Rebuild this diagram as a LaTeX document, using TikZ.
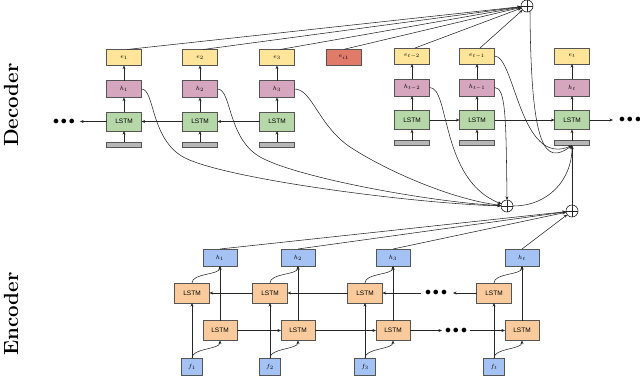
\documentclass[tikz,border=0pt]{standalone}
\usepackage{fontspec}
\setsansfont{Liberation Sans}
\usetikzlibrary{arrows.meta}
\definecolor{yel}{HTML}{FFE599}
\definecolor{pnk}{HTML}{D5A6BD}
\definecolor{grn}{HTML}{B6D7A8}
\definecolor{redc}{HTML}{E07B6A}
\definecolor{gry}{HTML}{B7B7B7}
\definecolor{blu}{HTML}{A4C2F4}
\definecolor{org}{HTML}{F9CB9C}
\definecolor{bord}{HTML}{555555}
\tikzset{
  every node/.style={inner sep=0pt, outer sep=0pt},
  bx/.style={draw=bord, line width=0.6pt, minimum width=35pt, font=\fontsize{6}{6}\selectfont},
  ebox/.style={bx, fill=yel, minimum height=16pt},
  rbox/.style={bx, fill=redc, minimum height=16pt},
  hbox/.style={bx, fill=pnk, minimum height=17pt},
  dlstm/.style={bx, fill=grn, minimum height=19pt, font=\sffamily\fontsize{6.5}{7}\selectfont},
  gbox/.style={bx, fill=gry, minimum height=5pt},
  ehbox/.style={bx, fill=blu, minimum width=34pt, minimum height=17pt},
  elstm/.style={bx, fill=org, minimum height=20pt, font=\sffamily\fontsize{6.5}{7}\selectfont},
  fbox/.style={bx, fill=blu, minimum width=21pt, minimum height=17pt},
  conn/.style={line width=0.55pt, draw=black!85, -{Stealth[length=3.6pt,width=3pt]}},
  plain/.style={line width=0.55pt, draw=black!85},
  oplus/.style={circle, draw=black!85, line width=0.6pt, minimum size=12pt,
    path picture={\draw[line width=0.6pt] (path picture bounding box.north) -- (path picture bounding box.south)
      (path picture bounding box.west) -- (path picture bounding box.east);}},
  dotsty/.style={font=\fontsize{12}{12}\selectfont},
  side/.style={font=\bfseries\fontsize{20.5}{22}\selectfont, rotate=90},
}
\begin{document}
\begin{tikzpicture}[x=1pt,y=-1pt]
\useasboundingbox (0,0) rectangle (640,378);
% side labels
\node[side] (declab) at (11,105) {Decoder};
\node[side] (enclab) at (11,314) {Encoder};
% decoder left columns
\foreach \n/\x/\lab in {1/124/1, 2/200/2, 3/277/3}{
  \node[ebox] (de\n) at (\x,57.5) {$e_{\lab}$};
  \node[hbox] (dh\n) at (\x,89) {$h_{\lab}$};
  \node[dlstm] (dl\n) at (\x,121.5) {LSTM};
  \node[gbox] (dg\n) at (\x,144.5) {};
}
\node[rbox] (dei) at (344,57.3) {$e_{i1}$};
% decoder right columns
\foreach \n/\x/\lab in {4/412/t-2, 5/477/t-1, 6/572/t}{
  \node[ebox] (de\n) at (\x,56) {$e_{\lab}$};
  \node[hbox] (dh\n) at (\x,87.5) {$h_{\lab}$};
  \node[dlstm] (dl\n) at (\x,120) {LSTM};
  \node[gbox] (dg\n) at (\x,143) {};
}
\foreach \n in {1,...,6}{
  \draw[conn] (dg\n) -- (dl\n);
  \draw[conn] (dl\n) -- (dh\n);
  \draw[conn] (dh\n) -- (de\n);
}
% decoder horizontal
\draw[conn] (dl3) -- (dl2);
\draw[conn] (dl2) -- (dl1);
\coordinate (dlend) at (80,121.5);
\draw[conn] (dl1) -- (dlend);
\node[dotsty] (dotsL) at (64,121.5) {$\bullet\mkern-1mu\bullet\mkern-1mu\bullet$};
\draw[conn] (dl4) -- (dl5);
\draw[conn] (dl5) -- (dl6);
\coordinate (drend) at (613,120);
\draw[conn] (dl6) -- (drend);
\node[dotsty] (dotsR) at (630,120) {$\bullet\mkern-1mu\bullet\mkern-1mu\bullet$};
% plus nodes
\node[oplus] (topop) at (527,6) {};
\node[oplus] (midop) at (507,206) {};
\node[oplus] (lowop) at (572,211) {};
% e to top plus
\foreach \n in {1,2,3,4,5}{
  \draw[conn] ([xshift=3pt]de\n.north) -- (topop);
}
\draw[conn] (dei.north) -- (topop);
% decoder h to middle plus
\draw[conn] (dh1.east) .. controls (155,89) and (150,140) .. (185,158) .. controls (230,180) and (420,204) .. (midop);
\draw[conn] (dh2.east) .. controls (232,89) and (227,140) .. (262,158) .. controls (300,178) and (430,202) .. (midop);
\draw[conn] (dh3.east) .. controls (312,89) and (318,125) .. (350,147) .. controls (390,173) and (455,200) .. (midop);
\draw[conn] (dh4.east) .. controls (450,87) and (440,180) .. (midop);
\draw[conn] (dh5.east) .. controls (506,87) and (506,120) .. (midop.north);
% into decoder input t
\draw[conn] (de5.east) .. controls (515,56) and (520,168) .. (dg6.south);
\draw[conn] (topop.-60) .. controls (531,150) and (545,165) .. (dg6.south);
\draw[conn] (midop.east) .. controls (548,206) and (572,180) .. (dg6.south);
\draw[conn] (lowop) -- (dg6.south);
% encoder
\foreach \n/\xa/\xb/\lab in {1/192/220/1, 2/270/298/2, 3/365/393/3, 4/494/522/t}{
  \node[ehbox] (eh\n) at (\xb,257.5) {$h_{\lab}$};
  \node[elstm] (eb\n) at (\xa,293) {LSTM};
  \node[elstm, minimum width=34pt] (ef\n) at (\xb,330.5) {LSTM};
  \node[fbox] (ff\n) at (\xa,366.5) {$f_{\lab}$};
  \draw[conn] (ff\n) -- (eb\n);
  \draw[conn] (ff\n.north) .. controls ([yshift=10pt]ff\n.north) and ([yshift=-9pt]ef\n.south) .. (ef\n.south);
  \draw[conn] (eb\n.north) .. controls ([yshift=10pt]eb\n.north) and ([yshift=-9pt]eh\n.south) .. (eh\n.south);
  \draw[conn] (ef\n) -- (eh\n);
  \draw[conn] (eh\n.north) -- (lowop);
}
% encoder backward row
\draw[conn] (eb2) -- (eb1);
\draw[conn] (eb3) -- (eb2);
\coordinate (ebdA) at (421,293);
\coordinate (ebdB) at (453,293);
\draw[conn] (ebdA) -- (eb3);
\draw[conn] (eb4) -- (ebdB);
\node[dotsty] (dotsEB) at (436,293) {$\bullet\mkern-1mu\bullet\mkern-1mu\bullet$};
% encoder forward row
\draw[conn] (ef1) -- (ef2);
\draw[conn] (ef2) -- (ef3);
\coordinate (efdA) at (442,330.5);
\coordinate (efdB) at (470,330.5);
\draw[conn] (ef3) -- (efdA);
\draw[conn] (efdB) -- (ef4);
\node[dotsty] (dotsEF) at (456,330.5) {$\bullet\mkern-1mu\bullet\mkern-1mu\bullet$};
\end{tikzpicture}
\end{document}
